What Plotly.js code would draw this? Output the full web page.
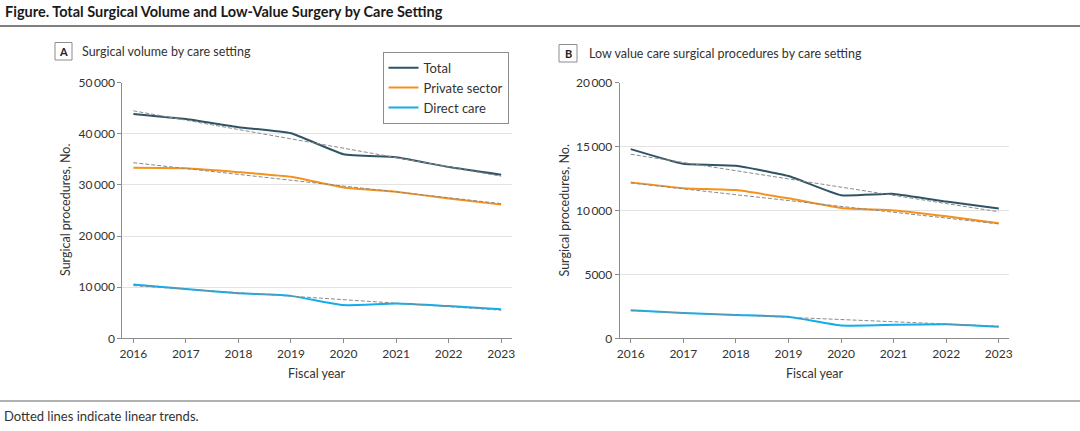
<!DOCTYPE html>
<html>
<head>
<meta charset="utf-8">
<script src="https://cdn.plot.ly/plotly-3.0.1.min.js"></script>
<style>
  html, body { margin: 0; padding: 0; background: #fff; }
  #chart { width: 1080px; height: 431px; }
</style>
</head>
<body>
<div id="chart"></div>
<script>
// ---- Data ----
const years = [2016, 2017, 2018, 2019, 2020, 2021, 2022, 2023];
const seriesNames = ["Total", "Private sector", "Direct care"];

// Panel A: Surgical volume by care setting
const totalA   = [43900, 42900, 41300, 40100, 36000, 35400, 33500, 32000];
const privateA = [33350, 33250, 32500, 31600, 29500, 28650, 27350, 26150];
const directA  = [10500, 9650, 8800, 8300, 6500, 6800, 6300, 5700];
// Linear trend endpoints (2016, 2023)
const trendYears = [2016, 2023];
const totalTrendA   = [44500, 31700];
const privateTrendA = [34350, 26350];
const directTrendA  = [10300, 5500];

// Panel B: Low value care surgical procedures by care setting
const totalB   = [14800, 13650, 13500, 12700, 11200, 11300, 10700, 10150];
const privateB = [12200, 11750, 11600, 10950, 10200, 10000, 9550, 9000];
const directB  = [2200, 1980, 1820, 1680, 1000, 1060, 1100, 900];
const totalTrendB   = [14400, 9900];
const privateTrendB = [12150, 8950];
const directTrendB  = [2160, 950];

// Tick labels
const yTickValsA = [0, 10000, 20000, 30000, 40000, 50000];
const yTickTextA = ["0", "10\u2009000", "20\u2009000", "30\u2009000", "40\u2009000", "50\u2009000"];
const yTickValsB = [0, 5000, 10000, 15000, 20000];
const yTickTextB = ["0", "5000", "10\u2009000", "15\u2009000", "20\u2009000"];

// ---- Styles ----
const colors = ["#2f5464", "#f5921e", "#12adea"];
const FONT = "Lato, 'Open Sans', sans-serif";
const W = 1080, H = 431;
const px = x => x / W;
const py = y => 1 - y / H;

const dataA = [totalA, privateA, directA];
const dataB = [totalB, privateB, directB];
const trendA = [totalTrendA, privateTrendA, directTrendA];
const trendB = [totalTrendB, privateTrendB, directTrendB];

const traces = [];
[["x", "y", dataA, trendA, true], ["x2", "y2", dataB, trendB, false]].forEach(([xa, ya, d, t, leg]) => {
  d.forEach((vals, i) => {
    traces.push({
      x: years, y: vals, xaxis: xa, yaxis: ya, type: "scatter", mode: "lines",
      name: seriesNames[i], showlegend: leg, legendgroup: seriesNames[i],
      line: { color: colors[i], width: 2, shape: "spline", smoothing: 0.4 },
      hoverinfo: "x+y"
    });
  });
  t.forEach((vals, i) => {
    traces.push({
      x: trendYears, y: vals, xaxis: xa, yaxis: ya, type: "scatter", mode: "lines",
      name: seriesNames[i] + " trend", showlegend: false,
      line: { color: "#8a8a8a", width: 1, dash: "4px,2px" },
      hoverinfo: "skip"
    });
  });
});

const xAxisBase = {
  range: [2015.79, 2023.2], tickvals: years, ticktext: years.map(String),
  showgrid: false, zeroline: false, showline: true, linecolor: "#8c8c8c", linewidth: 1,
  ticks: "outside", ticklen: 4, tickcolor: "#8c8c8c", tickwidth: 1,
  tickfont: { family: FONT, size: 12, color: "#333" }, fixedrange: true
};
const yAxisBase = {
  showgrid: true, gridcolor: "#e3e3e3", gridwidth: 1, zeroline: false,
  showline: true, linecolor: "#8c8c8c", linewidth: 1,
  ticks: "outside", ticklen: 4, tickcolor: "#8c8c8c", tickwidth: 1,
  tickfont: { family: FONT, size: 12, color: "#333" }, fixedrange: true
};

const yDom = [py(338.3), py(82.7)];
const layout = {
  width: W, height: H,
  margin: { l: 0, r: 0, t: 0, b: 0 },
  paper_bgcolor: "#fff", plot_bgcolor: "#fff",
  font: { family: FONT, color: "#333" },
  showlegend: true,
  legend: {
    x: px(382.5), y: py(51.7), xanchor: "left", yanchor: "top",
    bordercolor: "#8c8c8c", borderwidth: 1, bgcolor: "#fff",
    font: { family: FONT, size: 13, color: "#333" },
    itemwidth: 30, tracegroupgap: 0
  },
  xaxis:  Object.assign({}, xAxisBase, { domain: [px(122.3), px(511.7)], anchor: "y" }),
  yaxis:  Object.assign({}, yAxisBase, { domain: yDom, anchor: "x", range: [0, 50000], tickvals: yTickValsA, ticktext: yTickTextA }),
  xaxis2: Object.assign({}, xAxisBase, { domain: [px(619.7), px(1009.3)], anchor: "y2" }),
  yaxis2: Object.assign({}, yAxisBase, { domain: yDom, anchor: "x2", range: [0, 20000], tickvals: yTickValsB, ticktext: yTickTextB }),
  shapes: [
    { type: "line", xref: "paper", yref: "paper", x0: 0, x1: 1, y0: py(26), y1: py(26), line: { color: "#555", width: 1.5 } },
    { type: "line", xref: "paper", yref: "paper", x0: 0, x1: 1, y0: py(401), y1: py(401), line: { color: "#666", width: 1.2 } },
    { type: "rect", xref: "paper", yref: "paper", x0: px(55), x1: px(72), y0: py(42.5), y1: py(60), line: { color: "#8c8c8c", width: 1 }, fillcolor: "rgba(0,0,0,0)" },
    { type: "rect", xref: "paper", yref: "paper", x0: px(559), x1: px(577), y0: py(44.5), y1: py(62), line: { color: "#8c8c8c", width: 1 }, fillcolor: "rgba(0,0,0,0)" }
  ],
  annotations: [
    { text: "<b>Figure. Total Surgical Volume and Low-Value Surgery by Care Setting</b>",
      xref: "paper", yref: "paper", x: px(3), y: py(11.5), xanchor: "left", yanchor: "middle",
      showarrow: false, font: { family: FONT, size: 14.5, color: "#1a1a1a" } },
    { text: "<b>A</b>", xref: "paper", yref: "paper", x: px(63.5), y: py(51.3), xanchor: "center", yanchor: "middle",
      showarrow: false, font: { family: FONT, size: 11, color: "#222" } },
    { text: "Surgical volume by care setting", xref: "paper", yref: "paper", x: px(79.5), y: py(51.3), xanchor: "left", yanchor: "middle",
      showarrow: false, font: { family: FONT, size: 12.5, color: "#333" } },
    { text: "<b>B</b>", xref: "paper", yref: "paper", x: px(568), y: py(53.3), xanchor: "center", yanchor: "middle",
      showarrow: false, font: { family: FONT, size: 11, color: "#222" } },
    { text: "Low value care surgical procedures by care setting", xref: "paper", yref: "paper", x: px(586.5), y: py(53.3), xanchor: "left", yanchor: "middle",
      showarrow: false, font: { family: FONT, size: 12.5, color: "#333" } },
    { text: "Surgical procedures, No.", xref: "paper", yref: "paper", x: px(65.5), y: py(210.5), xanchor: "center", yanchor: "middle",
      textangle: -90, showarrow: false, font: { family: FONT, size: 12.5, color: "#333" } },
    { text: "Surgical procedures, No.", xref: "paper", yref: "paper", x: px(564), y: py(210.5), xanchor: "center", yanchor: "middle",
      textangle: -90, showarrow: false, font: { family: FONT, size: 12.5, color: "#333" } },
    { text: "Fiscal year", xref: "paper", yref: "paper", x: px(317), y: py(373.5), xanchor: "center", yanchor: "middle",
      showarrow: false, font: { family: FONT, size: 12.5, color: "#333" } },
    { text: "Fiscal year", xref: "paper", yref: "paper", x: px(814.5), y: py(373.5), xanchor: "center", yanchor: "middle",
      showarrow: false, font: { family: FONT, size: 12.5, color: "#333" } },
    { text: "Dotted lines indicate linear trends.", xref: "paper", yref: "paper", x: px(2), y: py(416), xanchor: "left", yanchor: "middle",
      showarrow: false, font: { family: FONT, size: 13, color: "#333" } }
  ]
};

Plotly.newPlot("chart", traces, layout, { displayModeBar: false, staticPlot: true });
</script>
</body>
</html>
